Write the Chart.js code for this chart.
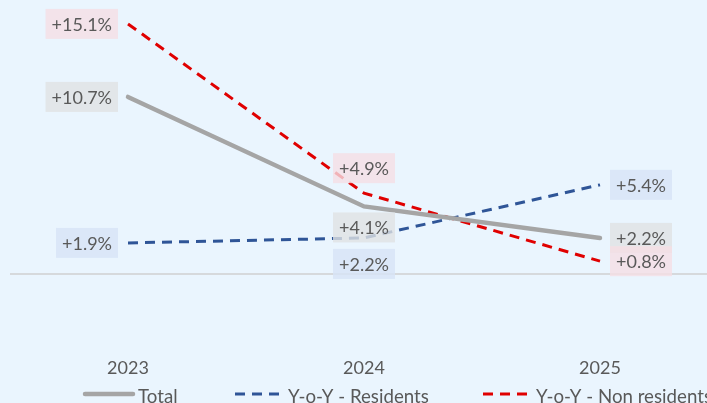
<!DOCTYPE html>
<html>
<head>
<meta charset="utf-8">
<script src="https://cdn.jsdelivr.net/npm/chart.js@4"></script>
<style>
  html, body { margin: 0; padding: 0; background: #eaf5fe; overflow: hidden; }
  #wrap { width: 720px; height: 403px; }
</style>
</head>
<body>
<div id="wrap"><canvas id="growthChart" width="720" height="403"></canvas></div>
<script>
// year-on-year growth, %
const years = ['2023', '2024', '2025'];
const totalGrowth = [10.7, 4.1, 2.2];
const residentsGrowth = [1.9, 2.2, 5.4];
const nonResidentsGrowth = [15.1, 4.9, 0.8];

const seriesNames = ['Total', 'Y-o-Y - Residents', 'Y-o-Y - Non residents'];

const FONT = 'Lato, "Open Sans", sans-serif';
const TEXT = '#595959';

// where each value label sits next to its point
const labelSides = [
    ['left', 'below', 'right'],
    ['left', 'below', 'right'],
    ['left', 'above', 'right']
];
const labelFills = [
    'rgba(224, 226, 228, 0.8)',
    'rgba(215, 228, 246, 0.8)',
    'rgba(245, 222, 229, 0.8)'
];

// Value labels in small tinted boxes
const boxLabels = {
    id: 'boxLabels',
    afterDatasetsDraw(chart) {
        const ctx = chart.ctx;
        ctx.save();
        ctx.font = '18px ' + FONT;
        ctx.textBaseline = 'middle';
        ctx.textAlign = 'center';
        chart.data.datasets.forEach((ds, i) => {
            const meta = chart.getDatasetMeta(i);
            meta.data.forEach((pt, j) => {
                const v = ds.data[j];
                const txt = '+' + v.toFixed(1) + '%';
                const w = ctx.measureText(txt).width + 12;
                const h = 30;
                let cx = pt.x, cy = pt.y;
                const side = labelSides[i][j];
                if (side === 'left') cx = pt.x - 10 - w / 2;
                if (side === 'right') cx = pt.x + 10 + w / 2;
                if (side === 'above') cy = pt.y - 25;
                if (side === 'below') cy = pt.y + (i === 0 ? 21 : 26);
                ctx.fillStyle = labelFills[i];
                ctx.fillRect(cx - w / 2, cy - h / 2, w, h);
                ctx.fillStyle = TEXT;
                ctx.fillText(txt, cx, cy + 1);
            });
        });
        ctx.restore();
    }
};

// Legend along the bottom edge
const lineLegend = {
    id: 'lineLegend',
    afterDraw(chart) {
        const ctx = chart.ctx;
        const y = 394;
        const starts = [85, 235, 483];
        ctx.save();
        ctx.font = '18.7px ' + FONT;
        ctx.textBaseline = 'middle';
        ctx.textAlign = 'left';
        chart.data.datasets.forEach((ds, i) => {
            const x = starts[i];
            ctx.strokeStyle = ds.borderColor;
            ctx.lineWidth = ds.borderWidth;
            ctx.setLineDash(ds.borderDash || []);
            ctx.lineCap = i === 0 ? 'round' : 'butt';
            ctx.beginPath();
            ctx.moveTo(x, y);
            ctx.lineTo(x + 48, y);
            ctx.stroke();
            ctx.setLineDash([]);
            ctx.fillStyle = TEXT;
            ctx.fillText(ds.label, x + 53, y + 3);
        });
        ctx.restore();
    }
};

const ctx = document.getElementById('growthChart').getContext('2d');
const growthChart = new Chart(ctx, {
    type: 'line',
    data: {
        labels: years,
        datasets: [{
            label: seriesNames[0],
            data: totalGrowth,
            borderColor: '#a5a5a5',
            borderWidth: 4.5,
            borderCapStyle: 'round',
            pointRadius: 0
        }, {
            label: seriesNames[1],
            data: residentsGrowth,
            borderColor: '#2f5597',
            borderWidth: 3,
            borderDash: [10, 7],
            pointRadius: 0
        }, {
            label: seriesNames[2],
            data: nonResidentsGrowth,
            borderColor: '#e00000',
            borderWidth: 3,
            borderDash: [10, 7],
            pointRadius: 0
        }]
    },
    options: {
        responsive: false,
        animation: false,
        layout: {
            padding: { left: 10, right: 2, top: 9, bottom: 24 }
        },
        plugins: {
            legend: { display: false },
            tooltip: { enabled: false }
        },
        scales: {
            x: {
                offset: true,
                grid: { display: false, drawTicks: false },
                border: { display: false },
                ticks: {
                    padding: 0,
                    color: TEXT,
                    font: { family: FONT, size: 18 }
                }
            },
            y: {
                min: -5,
                max: 16,
                border: { display: false },
                ticks: { display: false, stepSize: 1 },
                grid: {
                    drawTicks: false,
                    lineWidth: 2,
                    color: (c) => c.tick && c.tick.value === 0 ? '#d6d9dc' : 'transparent'
                }
            }
        }
    },
    plugins: [boxLabels, lineLegend]
});
</script>
</body>
</html>
